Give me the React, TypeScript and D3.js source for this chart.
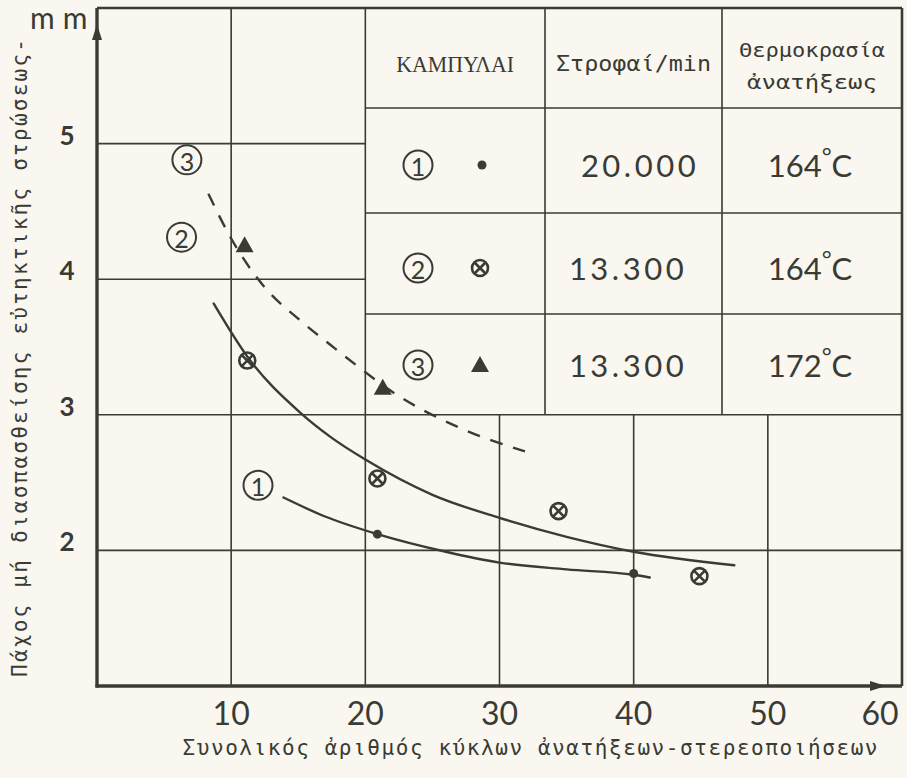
import React, { useEffect } from "react";
import * as d3 from "d3";

// axis ticks
const xTicks = [10, 20, 30, 40, 50, 60];
const yTicks = [2, 3, 4, 5];

// grid layout (in data units)
const xGridFull = [10, 20];
const xGridLower = [30, 40, 50];
const yGridLeft = [4, 5];
const yGridFull = [2, 3];

// curve 1 (20.000 rpm, 164°C) - solid
const curve1Line: [number, number][] = [
  [13.9, 2.39], [17, 2.25], [20.9, 2.12], [26, 1.99], [30, 1.91], [35, 1.86], [40, 1.82], [41.2, 1.8],
];
const curve1Points: [number, number][] = [[20.9, 2.12], [40, 1.83]];

// curve 2 (13.300 rpm, 164°C) - solid
const curve2Line: [number, number][] = [
  [8.7, 3.82], [11.2, 3.43], [15.1, 3.02], [17.5, 2.83], [20, 2.67], [25, 2.41], [30, 2.24], [35, 2.1], [40, 1.99], [47.5, 1.89],
];
const curve2Points: [number, number][] = [[11.2, 3.4], [20.9, 2.53], [34.4, 2.29], [44.9, 1.81]];

// curve 3 (13.300 rpm, 172°C) - dashed
const curve3Line: [number, number][] = [
  [8.3, 4.63], [10, 4.3], [12.5, 3.94], [15.1, 3.7], [17.6, 3.5], [19.4, 3.36], [22, 3.17], [26.9, 2.91], [31.9, 2.73],
];
const curve3Points: [number, number][] = [[11, 4.25], [21.3, 3.2]];

// circled curve labels on the plot
const curveLabels = [
  { id: "3", x: 6.7, y: 4.88 },
  { id: "2", x: 6.3, y: 4.31 },
  { id: "1", x: 12.0, y: 2.48 },
];

// legend table
const tableHeader = ["ΚΑΜΠΥΛΑΙ", "Στροφαί/min"];
const tableTempHeader = ["Θερμοκρασία", "ἀνατήξεως"];
const tableIds = ["1", "2", "3"];
const tableRpm = ["20.000", "13.300", "13.300"];
const tableTemp = ["164", "164", "172"];

const W = 907;
const H = 778;
const INK = "#393b34";
const BG = "#f9f7f0";

const x = d3.scaleLinear().domain([0, 60]).range([97, 902]);
const y = d3.scaleLinear().domain([1, 6]).range([686, 8]);

const line = d3
  .line<[number, number]>()
  .x((d) => x(d[0]))
  .y((d) => y(d[1]))
  .curve(d3.curveMonotoneX);

const tickFont = "Lato, 'Noto Sans', sans-serif";
const monoFont = "'DejaVu Sans Mono', 'Liberation Mono', monospace";

const CircledNum = ({ cx, cy, n }: { cx: number; cy: number; n: string }) => (
  <g>
    <circle cx={cx} cy={cy} r={14.5} fill="none" stroke={INK} strokeWidth={2} />
    <text x={cx} y={cy + 1} textAnchor="middle" dominantBaseline="central"
          fontFamily={tickFont} fontSize={25} fill={INK}>{n}</text>
  </g>
);

const Cross = ({ cx, cy }: { cx: number; cy: number }) => (
  <g stroke={INK} strokeWidth={2.6} fill="none">
    <circle cx={cx} cy={cy} r={8} />
    <line x1={cx - 5.5} y1={cy - 5.5} x2={cx + 5.5} y2={cy + 5.5} />
    <line x1={cx - 5.5} y1={cy + 5.5} x2={cx + 5.5} y2={cy - 5.5} />
  </g>
);

const Tri = ({ cx, cy }: { cx: number; cy: number }) => (
  <path d={`M${cx},${cy - 9} L${cx + 9},${cy + 7} L${cx - 9},${cy + 7} Z`} fill={INK} />
);

const App = () => {
  useEffect(() => {
    document.body.style.margin = "0";
    document.body.style.background = BG;
  }, []);

  // table layout (pixels)
  const colX = [x(20), 545, 722, x(60)];
  const rowY = [y(6), 108, 213, 314, y(3)];
  const rowMid = [165, 268, 365];

  return (
    <svg width={W} height={H} style={{ display: "block", background: BG }}>
      {/* grid */}
      <g stroke={INK} strokeWidth={1.6}>
        {xGridFull.map((v) => (
          <line key={"xf" + v} x1={x(v)} x2={x(v)} y1={y(1)} y2={y(6)} />
        ))}
        {xGridLower.map((v) => (
          <line key={"xl" + v} x1={x(v)} x2={x(v)} y1={y(1)} y2={y(3)} />
        ))}
        {yGridLeft.map((v) => (
          <line key={"yl" + v} x1={x(0)} x2={x(20)} y1={y(v)} y2={y(v)} />
        ))}
        {yGridFull.map((v) => (
          <line key={"yf" + v} x1={x(0)} x2={x(60)} y1={y(v)} y2={y(v)} />
        ))}
        {/* table lines */}
        {rowY.slice(1, 4).map((r, i) => (
          <line key={"tr" + i} x1={colX[0]} x2={colX[3]} y1={r} y2={r} />
        ))}
        {colX.slice(1, 3).map((c, i) => (
          <line key={"tc" + i} x1={c} x2={c} y1={rowY[0]} y2={rowY[4]} />
        ))}
      </g>

      {/* frame top and right */}
      <g stroke={INK} strokeWidth={2.6} fill="none">
        <line x1={x(0)} x2={x(60)} y1={y(6)} y2={y(6)} />
        <line x1={x(60)} x2={x(60)} y1={y(6)} y2={y(1)} />
      </g>

      {/* axes */}
      <g stroke={INK} strokeWidth={3.4}>
        <line x1={x(0)} x2={x(0)} y1={y(1) + 1.5} y2={y(6)} />
        <line x1={x(0) - 1.5} x2={x(60)} y1={y(1)} y2={y(1)} />
      </g>
      <path d={`M${x(0)},${24} L${x(0) + 5},${40} L${x(0) - 5},${40} Z`} fill={INK} />
      <path d={`M${886},${y(1)} L${870},${y(1) - 5} L${870},${y(1) + 5} Z`} fill={INK} />

      {/* tick labels */}
      {xTicks.map((v) => (
        <text key={"xt" + v} x={Math.min(x(v), 880)} y={725} textAnchor="middle" fontFamily={tickFont}
              fontSize={32} fill={INK}>{v}</text>
      ))}
      {yTicks.map((v) => (
        <text key={"yt" + v} x={67} y={y(v) - 9} textAnchor="middle" dominantBaseline="central"
              fontFamily={tickFont} fontWeight={700} fontSize={26} fill={INK}>{v}</text>
      ))}
      <text x={30} y={29} fontFamily={tickFont} fontSize={30} letterSpacing={8} fill={INK}>mm</text>

      {/* axis titles */}
      <text transform="translate(20,358) rotate(-90)" textAnchor="middle" dominantBaseline="central"
            fontFamily={monoFont} fontSize={21} fill={INK} textLength={638} lengthAdjust="spacing">
        Πάχος μή διασπασθείσης εὐτηκτικῆς στρώσεως-
      </text>
      <text x={530} y={755} textAnchor="middle" fontFamily={monoFont} fontSize={21} fill={INK}
            textLength={695} lengthAdjust="spacing">
        Συνολικός ἀριθμός κύκλων ἀνατήξεων-στερεοποιήσεων
      </text>

      {/* curves */}
      <g fill="none" stroke={INK} strokeWidth={2.4} strokeLinecap="round">
        <path d={line(curve1Line) || ""} />
        <path d={line(curve2Line) || ""} />
        <path d={line(curve3Line) || ""} strokeDasharray="13 11" strokeLinecap="butt" />
      </g>

      {/* markers */}
      {curve1Points.map((p, i) => (
        <circle key={"c1" + i} cx={x(p[0])} cy={y(p[1])} r={4.5} fill={INK} />
      ))}
      {curve2Points.map((p, i) => (
        <Cross key={"c2" + i} cx={x(p[0])} cy={y(p[1])} />
      ))}
      {curve3Points.map((p, i) => (
        <Tri key={"c3" + i} cx={x(p[0])} cy={y(p[1])} />
      ))}

      {curveLabels.map((l) => (
        <CircledNum key={"cl" + l.id} cx={x(l.x)} cy={y(l.y)} n={l.id} />
      ))}

      {/* table header */}
      <text x={(colX[0] + colX[1]) / 2} y={64} textAnchor="middle" dominantBaseline="central"
            fontFamily="'Liberation Serif', 'DejaVu Serif', serif" fontSize={23} fill={INK}
            textLength={118} lengthAdjust="spacingAndGlyphs">{tableHeader[0]}</text>
      <text x={(colX[1] + colX[2]) / 2} y={64} textAnchor="middle" dominantBaseline="central"
            fontFamily={monoFont} fontSize={21} fill={INK}
            textLength={155} lengthAdjust="spacingAndGlyphs">{tableHeader[1]}</text>
      <text x={(colX[2] + colX[3]) / 2} y={50} textAnchor="middle" dominantBaseline="central"
            fontFamily={monoFont} fontSize={20} fill={INK}
            textLength={146} lengthAdjust="spacingAndGlyphs">{tableTempHeader[0]}</text>
      <text x={(colX[2] + colX[3]) / 2} y={82} textAnchor="middle" dominantBaseline="central"
            fontFamily={monoFont} fontSize={20} fill={INK}
            textLength={130} lengthAdjust="spacingAndGlyphs">{tableTempHeader[1]}</text>

      {/* table rows */}
      {tableIds.map((id, i) => (
        <g key={"row" + id}>
          <CircledNum cx={418} cy={rowMid[i]} n={id} />
          {i === 0 && <circle cx={482} cy={rowMid[i]} r={4.5} fill={INK} />}
          {i === 1 && <Cross cx={480} cy={rowMid[i]} />}
          {i === 2 && <Tri cx={480} cy={rowMid[i]} />}
          <text x={i === 0 ? 640 : 628} y={rowMid[i]} textAnchor="middle" dominantBaseline="central"
                fontFamily={tickFont} fontSize={31} letterSpacing={3.5} fill={INK}>{tableRpm[i]}</text>
          <text x={810} y={rowMid[i]} textAnchor="middle" dominantBaseline="central"
                fontFamily={tickFont} fontSize={31} fill={INK}>
            {tableTemp[i]}
            <tspan fontSize={24} dy={-10}>°</tspan>
            <tspan dy={10}>C</tspan>
          </text>
        </g>
      ))}
    </svg>
  );
};

export default App;
